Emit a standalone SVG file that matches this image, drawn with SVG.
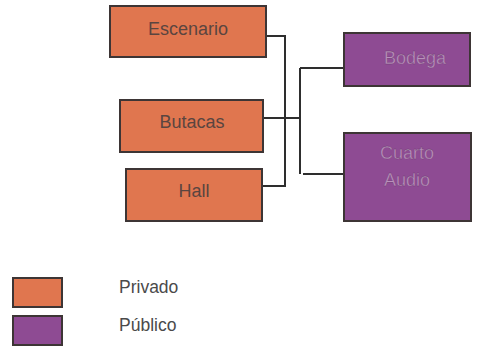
<svg xmlns="http://www.w3.org/2000/svg" width="477" height="347" viewBox="0 0 477 347">
<style>
.priv{fill:#E0764F;stroke:#3d3535;stroke-width:2}
.pub{fill:#8E4B93;stroke:#3d3535;stroke-width:2}
.t{font-family:"Liberation Sans",Arial,sans-serif;font-size:18px;text-anchor:middle}
.tp{fill:#5a4540}
.tu{fill:#b990bb;stroke:#6a3a6e;stroke-width:0.3}
.lt{font-family:"Liberation Sans",Arial,sans-serif;font-size:17.5px;fill:#4a4a4a}
.c{fill:none;stroke:#2e2e2e;stroke-width:2}
</style>
<rect width="477" height="347" fill="#ffffff"/>
<g id="connectors">
<polyline class="c" points="266,36 285,36 285,186 262,186"/>
<line class="c" x1="263" y1="118" x2="300" y2="118"/>
<line class="c" x1="300" y1="68" x2="300" y2="174"/>
<line class="c" x1="300" y1="68" x2="344" y2="68"/>
<line class="c" x1="303" y1="174" x2="344" y2="174"/>
</g>
<g id="escenario">
<rect class="priv" x="110" y="6" width="156" height="51"/>
<text class="t tp" x="188" y="35">Escenario</text>
</g>
<g id="butacas">
<rect class="priv" x="120" y="100" width="143" height="52"/>
<text class="t tp" x="192" y="128">Butacas</text>
</g>
<g id="hall">
<rect class="priv" x="126" y="169" width="136" height="52"/>
<text class="t tp" x="194" y="197">Hall</text>
</g>
<g id="bodega">
<rect class="pub" x="344" y="33" width="126" height="53"/>
<text class="t tu" x="415" y="64">Bodega</text>
</g>
<g id="cuarto-audio">
<rect class="pub" x="344" y="133" width="127" height="88"/>
<text class="t tu" x="407" y="159">Cuarto</text>
<text class="t tu" x="407" y="186">Audio</text>
</g>
<g id="legend-privado">
<rect class="priv" x="13" y="278" width="49" height="29"/>
<text class="lt" x="119" y="293">Privado</text>
</g>
<g id="legend-publico">
<rect class="pub" x="13" y="316" width="49" height="29"/>
<text class="lt" x="119" y="331">Público</text>
</g>
</svg>
